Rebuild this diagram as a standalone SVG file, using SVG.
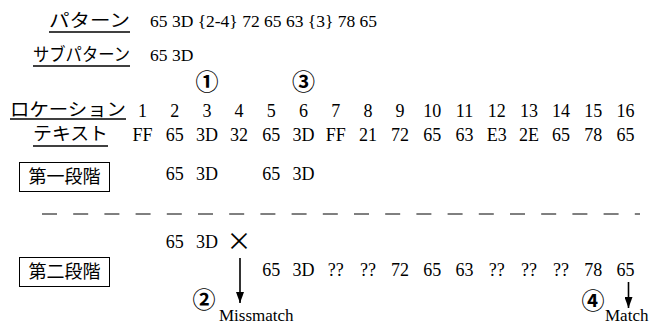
<svg xmlns="http://www.w3.org/2000/svg" width="651" height="325" viewBox="0 0 651 325">
<defs>
<marker id="ahd" markerWidth="8" markerHeight="11" refX="4" refY="11" orient="0" markerUnits="userSpaceOnUse" viewBox="0 0 8 11">
<path d="M0,0 L8,0 L4,11 Z" fill="#000"/>
</marker>
<style>
.jp{font-family:"Noto Sans CJK JP","Noto Sans",sans-serif;font-size:18px;fill:#000}
.num{font-family:"Liberation Serif","Times New Roman",serif;font-size:18px;fill:#000;text-anchor:middle}
.pat{font-family:"Liberation Serif","Times New Roman",serif;font-size:17.5px;fill:#000}
.lbl{font-family:"Liberation Serif","Times New Roman",serif;font-size:17px;fill:#000}
.cir{font-family:"Noto Sans CJK JP","DejaVu Sans",sans-serif;font-size:23px;font-weight:bold;fill:#000;text-anchor:middle}
.ul{stroke:#000;stroke-width:1.5}
.box{fill:#fff;stroke:#000;stroke-width:1}
.arr{stroke:#000;stroke-width:1.6;fill:none}
</style>
</defs>
<rect width="651" height="325" fill="#fff"/>

<g id="pattern">
<text class="jp" x="49" y="27" textLength="81" lengthAdjust="spacingAndGlyphs">パターン</text>
<line class="ul" x1="49" y1="32" x2="130" y2="32"/>
<text class="pat" x="150" y="27">65 3D {2-4} 72 65 63 {3} 78 65</text>
</g>

<g id="subpattern">
<text class="jp" x="33" y="61" textLength="97" lengthAdjust="spacingAndGlyphs">サブパターン</text>
<line class="ul" x1="33" y1="66" x2="130" y2="66"/>
<text class="pat" x="150" y="61">65 3D</text>
</g>

<g id="markers-top">
<text class="cir" x="207" y="90">①</text>
<text class="cir" x="303.5" y="90">③</text>
</g>

<g id="location">
<text class="jp" x="10" y="116" textLength="116" lengthAdjust="spacingAndGlyphs">ロケーション</text>
<line class="ul" x1="10" y1="119" x2="126" y2="119"/>
<text class="num" y="117">
<tspan x="142.5">1</tspan><tspan x="174.7">2</tspan><tspan x="206.9">3</tspan><tspan x="239.1">4</tspan><tspan x="271.3">5</tspan><tspan x="303.5">6</tspan><tspan x="335.7">7</tspan><tspan x="367.9">8</tspan><tspan x="400.1">9</tspan><tspan x="432.3">10</tspan><tspan x="464.5">11</tspan><tspan x="496.7">12</tspan><tspan x="528.9">13</tspan><tspan x="561.1">14</tspan><tspan x="593.3">15</tspan><tspan x="625.5">16</tspan>
</text>
</g>

<g id="text-row">
<text class="jp" x="33" y="140" textLength="75" lengthAdjust="spacingAndGlyphs">テキスト</text>
<line class="ul" x1="33" y1="146" x2="108" y2="146"/>
<text class="num" y="141">
<tspan x="142.5">FF</tspan><tspan x="174.7">65</tspan><tspan x="206.9">3D</tspan><tspan x="239.1">32</tspan><tspan x="271.3">65</tspan><tspan x="303.5">3D</tspan><tspan x="335.7">FF</tspan><tspan x="367.9">21</tspan><tspan x="400.1">72</tspan><tspan x="432.3">65</tspan><tspan x="464.5">63</tspan><tspan x="496.7">E3</tspan><tspan x="528.9">2E</tspan><tspan x="561.1">65</tspan><tspan x="593.3">78</tspan><tspan x="625.5">65</tspan>
</text>
</g>

<g id="stage1">
<rect class="box" x="19.5" y="162.5" width="90" height="29"/>
<text class="jp" x="64.5" y="183" text-anchor="middle">第一段階</text>
<text class="num" y="180">
<tspan x="174.7">65</tspan><tspan x="206.9">3D</tspan><tspan x="271.3">65</tspan><tspan x="303.5">3D</tspan>
</text>
</g>

<g id="divider">
<line x1="42" y1="214" x2="640" y2="214" stroke="#000" stroke-width="1" stroke-dasharray="15 16.2"/>
</g>

<g id="stage2">
<rect class="box" x="19.5" y="257.5" width="90" height="29"/>
<text class="jp" x="64.5" y="278" text-anchor="middle">第二段階</text>
<text class="num" y="248">
<tspan x="174.7">65</tspan><tspan x="206.9">3D</tspan>
</text>
<text x="239.1" y="250" text-anchor="middle" style="font-family:'Noto Sans CJK JP','DejaVu Sans',sans-serif;font-size:25px">×</text>
<text class="num" y="276">
<tspan x="271.3">65</tspan><tspan x="303.5">3D</tspan><tspan x="335.7">??</tspan><tspan x="367.9">??</tspan><tspan x="400.1">72</tspan><tspan x="432.3">65</tspan><tspan x="464.5">63</tspan><tspan x="496.7">??</tspan><tspan x="528.9">??</tspan><tspan x="561.1">??</tspan><tspan x="593.3">78</tspan><tspan x="625.5">65</tspan>
</text>
</g>

<g id="connectors">
<line class="arr" x1="240" y1="258" x2="240" y2="303" marker-end="url(#ahd)"/>
<line class="arr" x1="628.5" y1="282" x2="628.5" y2="308" marker-end="url(#ahd)"/>
</g>

<g id="mismatch">
<text class="cir" x="204" y="308">②</text>
<text class="lbl" x="219" y="321">Missmatch</text>
</g>

<g id="match">
<text class="cir" x="593" y="309">④</text>
<text class="lbl" x="605" y="321">Match</text>
</g>
</svg>
